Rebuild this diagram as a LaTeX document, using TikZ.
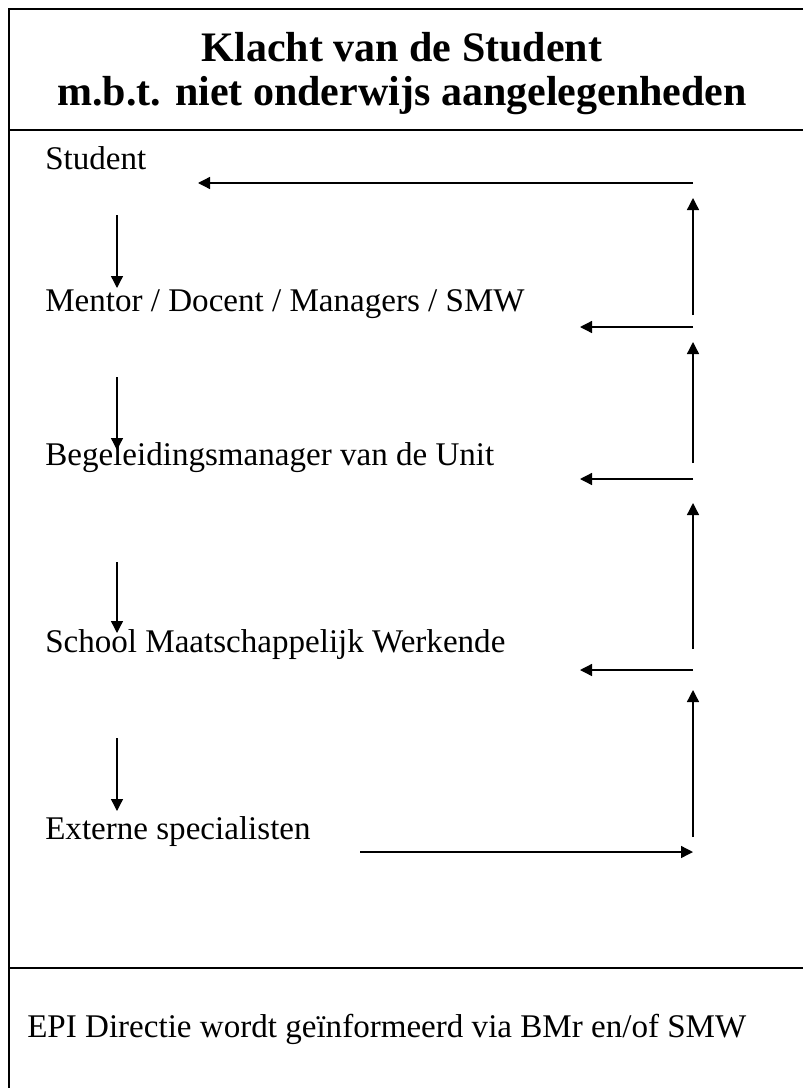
\documentclass[tikz,border=0pt]{standalone}
\usepackage{fontspec}
\setmainfont{Liberation Serif}
\usetikzlibrary{arrows.meta}

\tikzset{
  flow/.style={-{Triangle[length=9pt,width=9pt]},line width=1pt},
  lbl/.style={anchor=base west,inner sep=0pt,font=\fontsize{24.8}{28}\selectfont},
  ttl/.style={anchor=base,inner sep=0pt,font=\fontsize{31.5}{36}\selectfont\bfseries}
}

\begin{document}
\begin{tikzpicture}[x=0.75pt,y=-0.75pt]
    \useasboundingbox (0,0) rectangle (803,1088);

    % frame
    \draw[line width=1pt] (803,9) -- (9,9) -- (9,1088);
    \draw[line width=1pt] (9,130) -- (803,130);
    \draw[line width=1pt] (9,968) -- (803,968);

    % title
    \node[ttl] (t1) at (402,61)  {Klacht van de Student};
    \node[ttl] (t2) at (402,105) {m.b.t. niet onderwijs aangelegenheden};

    % the steps
    \node[lbl] (student) at (45,169) {Student};
    \node[lbl] (mentor)  at (45,311) {Mentor / Docent / Managers / SMW};
    \node[lbl] (bgm)     at (45,465) {Begeleidingsmanager van de Unit};
    \node[lbl] (smw)     at (45,652) {School Maatschappelijk Werkende};
    \node[lbl] (extern)  at (45,839) {Externe specialisten};

    \node[lbl] (epi) at (27,1037) {EPI Directie wordt geïnformeerd via BMr en/of SMW};

    % down the left side
    \coordinate (d1a) at (117,215); \coordinate (d1b) at (117,288);
    \coordinate (d2a) at (117,377); \coordinate (d2b) at (117,450);
    \coordinate (d3a) at (117,562); \coordinate (d3b) at (117,633);
    \coordinate (d4a) at (117,738); \coordinate (d4b) at (117,811);
    \draw[flow] (d1a) -- (d1b);
    \draw[flow] (d2a) -- (d2b);
    \draw[flow] (d3a) -- (d3b);
    \draw[flow] (d4a) -- (d4b);

    % back up the right side
    \coordinate (r0) at (693,183);
    \coordinate (r1) at (693,327);
    \coordinate (r2) at (693,479);
    \coordinate (r3) at (693,670);
    \coordinate (r4) at (693,852);
    \coordinate (x0) at (198,183);
    \coordinate (x1) at (580,327);
    \coordinate (x2) at (580,479);
    \coordinate (x3) at (580,670);
    \coordinate (x4) at (360,852);

    \draw[flow] (x4) -- (r4);
    \draw[flow] (693,837) -- (693,690);
    \draw[flow] (r3) -- (x3);
    \draw[flow] (693,649) -- (693,503);
    \draw[flow] (r2) -- (x2);
    \draw[flow] (693,463) -- (693,342);
    \draw[flow] (r1) -- (x1);
    \draw[flow] (693,315) -- (693,198);
    \draw[flow] (r0) -- (x0);

\end{tikzpicture}
\end{document}
